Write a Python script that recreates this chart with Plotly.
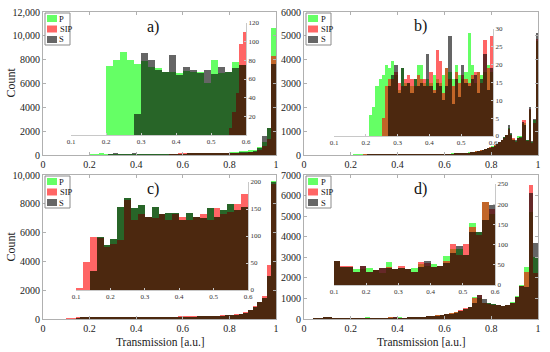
import plotly.graph_objects as go

W, H = 550, 352

# ---------------- DATA ----------------
# main histograms: bin width 0.02 (a, c, d) and 0.01 (b), left edges from 0
a_bw = 0.02
a_P = [0, 0, 0, 0, 0, 0, 0, 0, 0, 0,
       74, 80, 89, 80, 76, 79, 73, 72, 68, 68,
       66, 69, 68, 67, 56, 80, 66, 68, 78, 75,
       82, 88, 95, 105, 115, 125, 140, 160, 180, 200,
       250, 270, 300, 330, 380, 450, 650, 1100, 2250, 10650]
a_SIP = [0, 0, 0, 0, 0, 0, 0, 0, 0, 0,
         0, 0, 0, 0, 0, 0, 0, 0, 0, 0,
         0, 0, 0, 0, 0, 0, 0, 3, 30, 105,
         110, 115, 120, 125, 130, 135, 140, 145, 150, 155,
         165, 175, 190, 210, 240, 290, 420, 750, 1350, 8300]
a_S = [0, 0, 0, 0, 0, 0, 0, 0, 0, 0,
       0, 0, 0, 0, 23, 88, 80, 70, 68, 86,
       64, 73, 70, 66, 70, 65, 73, 68, 72, 75,
       78, 85, 90, 100, 110, 120, 130, 145, 160, 175,
       190, 200, 215, 240, 290, 360, 600, 1600, 2250, 7600]
# inset a: SIP with finer bins (0.01) starting at 0.55
ia_SIP_edges = [0.55, 0.56, 0.57, 0.58, 0.59]
ia_SIP = [7, 25, 45, 98, 110]

b_bw = 0.01
b_P = [0] * 20 + [
    0, 6, 8, 14, 16, 17, 20, 19, 21, 17,
    13, 19, 15, 15, 14, 16, 20, 20, 15, 16,
    15, 17, 16, 15, 17, 19, 18, 16, 20, 17,
    16, 18, 29, 20, 15, 18, 17, 18, 20, 18,
    30, 35, 40, 45, 50, 58, 66, 75, 85, 95,
    110, 125, 140, 160, 180, 200, 230, 260, 300, 330,
    360, 420, 480, 560, 650, 760, 850, 1150, 880, 680,
    600, 800, 780, 1300, 1350, 650, 1900, 560, 1450, 4800]
b_SIP = [0] * 20 + [
    0, 0, 0, 0, 0, 5, 14, 16, 16, 18,
    15, 14, 16, 17, 16, 14, 17, 16, 16, 14,
    18, 13, 24, 21, 12, 19, 16, 14, 18, 15,
    17, 16, 15, 17, 18, 18, 15, 27, 19, 28,
    28, 32, 36, 42, 47, 54, 62, 70, 80, 90,
    104, 118, 132, 150, 170, 190, 215, 245, 285, 315,
    340, 400, 460, 540, 620, 720, 820, 1100, 850, 700,
    560, 700, 700, 1450, 1450, 600, 1950, 520, 1350, 4850]
b_S = [0] * 20 + [
    0, 0, 0, 0, 0, 0, 0, 14, 17, 20,
    12, 19, 14, 15, 12, 16, 14, 15, 14, 23,
    14, 12, 15, 14, 10, 14, 28, 9, 16, 11,
    20, 15, 14, 16, 17, 12, 16, 23, 13, 19,
    25, 30, 34, 40, 45, 52, 60, 68, 78, 88,
    100, 112, 128, 145, 165, 185, 210, 240, 275, 305,
    330, 380, 450, 530, 640, 740, 840, 1260, 920, 650,
    620, 700, 740, 1400, 1250, 630, 2030, 600, 1500, 5100]

c_bw = 0.02
c_P = [0, 0, 0, 0, 0,
       0, 0, 36, 98, 84, 95, 154, 170, 151, 157, 136, 154, 140,
       142, 143, 130, 143, 135, 134, 151, 135, 148, 159, 148, 154,
       160, 165, 170, 180, 185, 195, 205, 215, 230, 250,
       280, 310, 350, 450, 600, 850, 1150, 1450, 3000, 9550]
c_SIP = [0, 0, 0, 0, 0,
         3, 52, 98, 97, 80, 86, 92, 167, 129, 141, 136, 134, 141,
         129, 141, 135, 129, 135, 141, 129, 151, 141, 145, 160, 178,
         175, 180, 185, 195, 200, 210, 225, 240, 255, 275,
         300, 330, 370, 470, 620, 880, 1200, 1600, 3750, 9350]
c_S = [0, 0, 0, 0, 0,
       0, 0, 36, 98, 84, 95, 154, 170, 151, 157, 136, 154, 140,
       142, 143, 130, 143, 135, 134, 151, 135, 148, 159, 148, 154,
       160, 165, 170, 180, 185, 195, 205, 215, 230, 250,
       280, 310, 350, 450, 600, 850, 1150, 1450, 3000, 9500]

d_bw = 0.02
d_P = [0, 0, 30, 45, 55,
       59, 45, 45, 40, 40, 41, 37, 29, 58, 40, 41, 40, 43,
       52, 46, 51, 47, 72, 90, 88, 75, 153, 130, 206, 175,
       230, 270, 320, 410, 500, 590, 1080, 1000, 780, 760,
       720, 700, 640, 680, 840, 1100, 1650, 2540, 5220, 3030]
d_SIP = [0, 0, 30, 45, 55,
         59, 47, 47, 33, 47, 32, 37, 41, 45, 40, 47, 40, 32,
         56, 54, 45, 47, 60, 101, 75, 101, 143, 124, 206, 189,
         240, 280, 330, 420, 520, 600, 1000, 1170, 780, 740,
         700, 690, 650, 660, 800, 1080, 1600, 2300, 6510, 2220]
d_S = [0, 0, 30, 45, 55,
       59, 45, 45, 33, 47, 32, 37, 41, 42, 40, 41, 40, 32,
       45, 59, 45, 47, 55, 78, 96, 75, 130, 130, 161, 198,
       225, 265, 315, 400, 490, 580, 760, 1170, 960, 800,
       710, 690, 630, 670, 780, 1050, 1600, 1570, 6110, 3680]

series_names = ["P", "SIP", "S"]
panel_labels = ["a)", "b)", "c)", "d)"]

main_xticks = [0, 0.2, 0.4, 0.6, 0.8, 1]
main_xticklabels = ["0", "0.2", "0.4", "0.6", "0.8", "1"]
a_yticks = [0, 2000, 4000, 6000, 8000, 10000, 12000]
a_yticklabels = ["0", "2000", "4000", "6000", "8000", "10,000", "12,000"]
b_yticks = [0, 1000, 2000, 3000, 4000, 5000, 6000]
b_yticklabels = ["0", "1000", "2000", "3000", "4000", "5000", "6000"]
c_yticks = [0, 2000, 4000, 6000, 8000, 10000]
c_yticklabels = ["0", "2000", "4000", "6000", "8000", "10,000"]
d_yticks = [0, 1000, 2000, 3000, 4000, 5000, 6000, 7000]
d_yticklabels = ["0", "1000", "2000", "3000", "4000", "5000", "6000", "7000"]

inset_xticks = [0.1, 0.2, 0.3, 0.4, 0.5, 0.6]
ia_yticks = [20, 40, 60, 80, 100, 120]
ib_yticks = [0, 5, 10, 15, 20, 25, 30]
ic_yticks = [0, 50, 100, 150, 200]
id_yticks = [0, 50, 100, 150, 200, 250]

x_title = "Transmission [a.u.]"
y_title = "Count"

# ---------------- STYLE ----------------
colors = {"P": "#00ff00", "SIP": "#ff0000", "S": "#000000"}
OPA = 0.6
SERIF = "Liberation Serif"


def edges(n, bw):
    return [round(i * bw, 4) for i in range(n)]


def xd(l, r):
    return [l / W, r / W]


def yd(t, b):
    return [1 - b / H, 1 - t / H]


def px(x):
    return x / W


def py(y):
    return 1 - y / H


fig = go.Figure()

panels = [
    ("a", a_bw, {"P": a_P, "SIP": a_SIP, "S": a_S}),
    ("b", b_bw, {"P": b_P, "SIP": b_SIP, "S": b_S}),
    ("c", c_bw, {"P": c_P, "SIP": c_SIP, "S": c_S}),
    ("d", d_bw, {"P": d_P, "SIP": d_SIP, "S": d_S}),
]

for k, (name, bw, data) in enumerate(panels):
    main_ax = "" if k == 0 else str(k + 1)
    ins_ax = str(k + 5)
    for s in series_names:
        vals = data[s]
        fig.add_trace(go.Bar(
            x=edges(len(vals), bw), y=vals, width=bw, offset=0,
            name=s, marker=dict(color=colors[s], line=dict(width=0)),
            opacity=OPA, xaxis="x" + main_ax, yaxis="y" + main_ax,
            showlegend=False, hoverinfo="skip"))
    for s in series_names:
        if name == "a" and s == "SIP":
            xs, vals, w = ia_SIP_edges, ia_SIP, 0.01
        else:
            vals = data[s]
            xs, w = edges(len(vals), bw), bw
        fig.add_trace(go.Bar(
            x=xs, y=vals, width=w, offset=0, name=s,
            marker=dict(color=colors[s], line=dict(width=0)),
            opacity=OPA, xaxis="x" + ins_ax, yaxis="y" + ins_ax,
            showlegend=False, hoverinfo="skip"))

main_common = dict(showline=True, linecolor="#b0b0b0", linewidth=1, mirror="ticks",
                   ticks="inside", ticklen=3, tickcolor="#b0b0b0", showgrid=False,
                   zeroline=False, automargin=False,
                   tickfont=dict(family=SERIF, size=10, color="#222"))
ins_common = dict(showline=True, linecolor="#c8c8c8", linewidth=1, ticks="inside",
                  ticklen=2, tickcolor="#c8c8c8", showgrid=False, zeroline=False,
                  automargin=False, tickfont=dict(family=SERIF, size=7, color="#333"))

main_boxes = [(43, 276, 12, 155), (304, 538, 12, 155), (43, 276, 175, 319), (304, 538, 175, 319)]
ins_boxes = [(71, 246, 23, 135), (334, 493, 29, 136), (76, 248, 182, 290), (334, 495, 184, 285)]
main_y = [(12000, a_yticks, a_yticklabels), (6000, b_yticks, b_yticklabels),
          (10000, c_yticks, c_yticklabels), (7000, d_yticks, d_yticklabels)]
ins_y = [(120, ia_yticks), (30, ib_yticks), (200, ic_yticks), (250, id_yticks)]

lay = {}
shapes = []
annotations = []
for k in range(4):
    l, r, t, b = main_boxes[k]
    sx = "" if k == 0 else str(k + 1)
    ymax, yt, ytl = main_y[k]
    lay["xaxis" + sx] = dict(main_common, domain=xd(l, r), range=[0, 1],
                             tickvals=main_xticks, ticktext=main_xticklabels,
                             anchor="y" + sx)
    lay["yaxis" + sx] = dict(main_common, domain=yd(t, b), range=[0, ymax],
                             tickvals=yt, ticktext=ytl, anchor="x" + sx)
    l2, r2, t2, b2 = ins_boxes[k]
    si = str(k + 5)
    imax, iyt = ins_y[k]
    lay["xaxis" + si] = dict(ins_common, domain=xd(l2, r2), range=[0.1, 0.6],
                             tickvals=inset_xticks, anchor="y" + si)
    lay["yaxis" + si] = dict(ins_common, domain=yd(t2, b2), range=[0, imax],
                             tickvals=iyt, side="right", anchor="x" + si)

    # compact legend (top-left of each main panel)
    lx0, ly0 = l + 2, t + 1
    lw, lh = 25, 32
    shapes.append(dict(type="rect", xref="paper", yref="paper",
                       x0=px(lx0), x1=px(lx0 + lw), y0=py(ly0 + lh), y1=py(ly0),
                       line=dict(color="#8a8a8a", width=1), fillcolor="white", layer="above"))
    for j, s in enumerate(series_names):
        cy = ly0 + 5.5 + j * 10.5
        shapes.append(dict(type="rect", xref="paper", yref="paper",
                           x0=px(lx0 + 2), x1=px(lx0 + 12), y0=py(cy + 3.5), y1=py(cy - 3.5),
                           line=dict(width=0), fillcolor=colors[s], opacity=OPA, layer="above"))
        annotations.append(dict(text=s, x=px(lx0 + 12.5), y=py(cy), xref="paper", yref="paper",
                                xanchor="left", yanchor="middle", showarrow=False,
                                font=dict(family=SERIF, size=8.5, color="#111")))

label_pos = [(153, 27), (420, 26), (153, 189), (420, 189)]
for k, (lx, ly) in enumerate(label_pos):
    annotations.append(dict(text=panel_labels[k], x=px(lx), y=py(ly), xref="paper",
                            yref="paper", xanchor="center", yanchor="middle", showarrow=False,
                            font=dict(family=SERIF, size=16, color="#111")))
for ty in (83, 247):
    annotations.append(dict(text=y_title, x=px(10.5), y=py(ty), xref="paper", yref="paper",
                            xanchor="center", yanchor="middle", showarrow=False, textangle=-90,
                            font=dict(family=SERIF, size=12, color="#222")))
for tx in (160, 421):
    annotations.append(dict(text=x_title, x=px(tx), y=py(341.5), xref="paper", yref="paper",
                            xanchor="center", yanchor="middle", showarrow=False,
                            font=dict(family=SERIF, size=11.5, color="#222")))

fig.update_layout(width=W, height=H, margin=dict(l=0, r=0, t=0, b=0),
                  paper_bgcolor="white", plot_bgcolor="white", showlegend=False,
                  barmode="overlay", bargap=0, annotations=annotations, shapes=shapes, **lay)

fig.write_html("out.html", config={"displayModeBar": False},
               post_script="document.body.style.margin='0px';document.body.style.overflow='hidden';")
